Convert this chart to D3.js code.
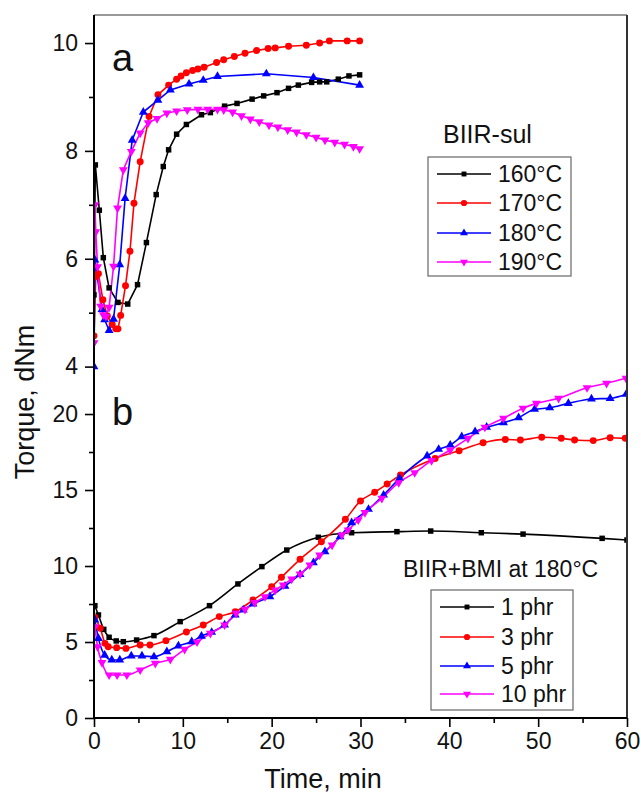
<!DOCTYPE html>
<html>
<head>
<meta charset="utf-8">
<script src="https://cdn.jsdelivr.net/npm/d3@7"></script>
<style>
  body { margin: 0; background: #fff; }
  text { font-family: "Liberation Sans", Arial, sans-serif; fill: #111; }
</style>
</head>
<body>
<svg width="641" height="793"></svg>
<script>
// panel a: BIIR-sul at different temperatures  [time min, torque dNm]
const a160 = [[0,5.33],[0.15,7.74],[0.6,6.9],[1.05,6.02],[1.7,5.46],[2.7,5.19],[3.8,5.16],[4.9,5.52],[5.9,6.3],[7.0,7.19],[7.8,7.71],[8.4,8.02],[9.3,8.31],[10.4,8.49],[12.1,8.67],[13.1,8.71],[14.7,8.83],[16.1,8.88],[17.8,8.96],[19.1,9.02],[20.6,9.08],[21.9,9.16],[23.0,9.22],[24.5,9.27],[25.4,9.28],[26.2,9.28],[27.5,9.33],[28.7,9.39],[29.9,9.41]]
const a170 = [[0,4.57],[0.2,5.67],[0.5,5.72],[1.0,5.24],[1.5,4.94],[2.05,4.78],[2.45,4.7],[2.7,4.7],[3.0,4.95],[3.55,5.5],[4.05,6.14],[4.5,7.03],[5.2,7.8],[6.2,8.64],[7.2,9.04],[8.4,9.22],[9.3,9.33],[9.8,9.39],[10.4,9.45],[11.1,9.49],[11.7,9.52],[12.4,9.55],[13.8,9.64],[14.6,9.69],[15.8,9.75],[17.0,9.81],[18.3,9.86],[19.6,9.9],[20.4,9.91],[21.9,9.94],[23.9,9.96],[25.4,10.0],[26.5,10.04],[28.5,10.04],[29.9,10.04]]
const a180 = [[0,4.0],[0.1,5.98],[0.9,5.06],[1.2,4.87],[1.7,4.67],[2.2,4.88],[2.9,5.89],[3.5,7.12],[4.3,8.2],[5.55,8.72],[7.2,8.94],[8.6,9.13],[10.7,9.24],[12.3,9.31],[13.9,9.38],[19.4,9.43],[24.7,9.36],[29.9,9.22]]
const a190 = [[0,4.44],[0.1,7.0],[0.2,6.5],[0.4,5.85],[0.75,5.12],[1.05,4.96],[1.35,4.93],[1.7,5.1],[2.2,5.86],[2.65,6.94],[3.3,7.65],[4.2,7.99],[5.2,8.33],[6.1,8.52],[7.1,8.6],[8.2,8.7],[9.3,8.74],[10.5,8.76],[11.7,8.77],[12.8,8.77],[13.9,8.77],[14.6,8.76],[15.6,8.72],[16.6,8.65],[17.6,8.59],[18.6,8.54],[19.7,8.48],[20.7,8.44],[21.8,8.39],[22.8,8.35],[23.9,8.3],[25.0,8.25],[26.0,8.2],[27.1,8.16],[28.2,8.12],[29.2,8.08],[29.9,8.04]]

// panel b: BIIR+BMI at 180 C, different BMI content
const b1 = [[0.1,7.39],[0.5,6.78],[1.1,5.83],[1.7,5.31],[2.5,5.07],[3.3,5.02],[4.8,5.13],[6.75,5.42],[9.7,6.34],[13.0,7.39],[16.2,8.82],[18.9,9.96],[21.7,11.05],[25.25,11.89],[29.0,12.19],[34.1,12.26],[37.9,12.3],[43.6,12.19],[48.3,12.1],[57.2,11.82],[60,11.71]]
const b3 = [[0.1,6.62],[0.7,5.9],[1.24,4.91],[1.6,4.69],[2.55,4.63],[3.6,4.58],[5.2,4.8],[6.3,4.8],[8.1,5.09],[10.4,5.66],[12.3,6.12],[14.1,6.67],[15.9,6.99],[17.9,7.76],[20.0,8.64],[21.1,9.26],[23.2,10.44],[25.6,11.6],[28.3,13.07],[30,14.28],[31.6,14.85],[33,15.39],[34.5,15.99],[38.4,17.08],[41.1,17.59],[43.8,18.11],[46.3,18.33],[48,18.29],[50.4,18.47],[52.6,18.4],[54.1,18.29],[56.2,18.25],[58.1,18.44],[59.8,18.4]]
const b5 = [[0.1,6.45],[0.5,5.24],[1.2,4.14],[2.0,3.82],[2.9,3.82],[4.2,4.08],[5.4,4.08],[6.75,4.03],[8.2,4.36],[9.5,4.74],[11.0,5.02],[12.1,5.39],[13.25,5.64],[14.7,6.12],[15.9,6.78],[16.8,7.11],[17.9,7.5],[19.8,7.98],[21.5,8.68],[23.2,9.45],[24.7,10.22],[26,10.94],[27.7,11.93],[29,12.85],[30.9,13.73],[32.6,14.67],[34.4,15.77],[37.5,17.24],[38.8,17.68],[40.1,17.96],[41.4,18.51],[42.9,18.84],[44.2,19.13],[46.1,19.43],[47.8,19.76],[49.6,20.31],[51.3,20.41],[53.4,20.7],[56,20.99],[58.1,21.03],[59.9,21.3]]
const b10 = [[0.1,6.0],[0.4,4.69],[0.9,3.64],[1.7,2.83],[2.6,2.83],[3.7,2.83],[5.2,3.16],[6.9,3.6],[8.6,3.86],[10.2,4.52],[11.6,5.0],[13.1,5.57],[14.7,6.12],[16,6.89],[17,7.15],[18.1,7.59],[19.25,7.98],[20.4,8.42],[21.3,8.75],[22.25,9.14],[23.2,9.47],[24.3,10.07],[25.4,10.72],[26.8,11.38],[27.9,12.04],[28.6,12.37],[29.75,13.03],[30.5,13.51],[32.4,14.45],[34.3,15.48],[36.1,16.14],[38,16.93],[40.1,17.63],[42.1,18.4],[44,19.13],[46.1,19.72],[48.3,20.38],[49.8,20.7],[52.3,21.03],[55.5,21.73],[57.7,22.02],[59.9,22.35]]

const labelsA = ["160°C", "170°C", "180°C", "190°C"]
const labelsB = ["1 phr", "3 phr", "5 phr", "10 phr"]
const colors = ["#000000", "#ff0000", "#0000ff", "#ff00ff"]
const xTicks = [0, 10, 20, 30, 40, 50, 60]
const yTicksA = [4, 6, 8, 10]
const yTicksB = [0, 5, 10, 15, 20]

const svg = d3.select("svg")
const padL = 94, padR = 627, padT = 15, padB = 718, split = 372

const x = d3.scaleLinear().domain([0, 60]).range([padL, padR])
const yA = d3.scaleLinear().domain([3.9, 10.52]).range([split, padT])
const yB = d3.scaleLinear().domain([0, 22.6]).range([padB, split + 2.5])

// marker shapes: square, circle, up triangle, down triangle
const shapes = [d3.symbolSquare, d3.symbolCircle, d3.symbolTriangle, d3.symbolTriangle]
const sizes = [30, 38, 34, 34]
function marker(g, i, cx, cy, scale) {
  g.append("path")
    .attr("d", d3.symbol().type(shapes[i]).size(sizes[i] * (scale || 1))())
    .attr("transform", `translate(${cx},${cy})` + (i === 3 ? " rotate(180)" : ""))
    .attr("fill", colors[i])
}

svg.append("clipPath").attr("id", "clipA")
  .append("rect").attr("x", padL).attr("y", padT).attr("width", padR - padL).attr("height", split - padT)
svg.append("clipPath").attr("id", "clipB")
  .append("rect").attr("x", padL).attr("y", split).attr("width", padR - padL).attr("height", padB - split)

function drawPanel(series, y, clipId, curve) {
  const g = svg.append("g").attr("clip-path", `url(#${clipId})`)
  const line = d3.line().x(d => x(d[0])).y(d => y(d[1])).curve(curve)
  series.forEach((s, i) => {
    g.append("path").datum(s)
      .attr("d", line)
      .attr("fill", "none")
      .attr("stroke", colors[i])
      .attr("stroke-width", 1.6)
  })
  series.forEach((s, i) => {
    s.forEach(d => marker(g, i, x(d[0]), y(d[1])))
  })
}

drawPanel([a160, a170, a180, a190], yA, "clipA", d3.curveLinear)
drawPanel([b1, b3, b5, b10], yB, "clipB", d3.curveMonotoneX)

// frame
svg.append("line").attr("x1", padL).attr("x2", padR).attr("y1", padT).attr("y2", padT)
  .attr("stroke", "#777").attr("stroke-width", 1.5)
svg.append("line").attr("x1", padR).attr("x2", padR).attr("y1", padT).attr("y2", padB)
  .attr("stroke", "#333").attr("stroke-width", 2)

// axes
function styleAxis(g) {
  g.select(".domain").remove()
  g.selectAll(".tick line").attr("stroke", "#000").attr("stroke-width", 1.6)
  g.selectAll(".tick text").attr("font-size", 23).attr("fill", "#111")
    .attr("font-family", "Liberation Sans, Arial, sans-serif")
}
const axA = svg.append("g").attr("transform", `translate(${padL},0)`)
  .call(d3.axisLeft(yA).tickValues(yTicksA).tickSize(9).tickPadding(7).tickFormat(d3.format("d")))
styleAxis(axA)
const axAminor = svg.append("g").attr("transform", `translate(${padL},0)`)
  .call(d3.axisLeft(yA).tickValues([5, 7, 9]).tickSize(5).tickFormat(""))
styleAxis(axAminor)

const axB = svg.append("g").attr("transform", `translate(${padL},0)`)
  .call(d3.axisLeft(yB).tickValues(yTicksB).tickSize(9).tickPadding(7).tickFormat(d3.format("d")))
styleAxis(axB)
const axBminor = svg.append("g").attr("transform", `translate(${padL},0)`)
  .call(d3.axisLeft(yB).tickValues([2.5, 7.5, 12.5, 17.5]).tickSize(5).tickFormat(""))
styleAxis(axBminor)

const axX = svg.append("g").attr("transform", `translate(0,${padB})`)
  .call(d3.axisBottom(x).tickValues(xTicks).tickSize(9).tickPadding(6))
styleAxis(axX)
const axXminor = svg.append("g").attr("transform", `translate(0,${padB})`)
  .call(d3.axisBottom(x).tickValues([5, 15, 25, 35, 45, 55]).tickSize(5).tickFormat(""))
styleAxis(axXminor)

svg.append("line").attr("x1", padL).attr("x2", padL).attr("y1", padT).attr("y2", padB)
  .attr("stroke", "#000").attr("stroke-width", 2)
svg.append("line").attr("x1", padL).attr("x2", padR).attr("y1", padB).attr("y2", padB)
  .attr("stroke", "#000").attr("stroke-width", 2)

// titles
svg.append("text").attr("x", 323).attr("y", 788).attr("text-anchor", "middle")
  .attr("font-size", 27).text("Time, min")
svg.append("text").attr("transform", "translate(34,402) rotate(-90)").attr("text-anchor", "middle")
  .attr("font-size", 27).text("Torque, dNm")

svg.append("text").attr("x", 112).attr("y", 71).attr("font-size", 38).text("a")
svg.append("text").attr("x", 112).attr("y", 425).attr("font-size", 38).text("b")

// legends
function legend(title, tx, ty, tsize, box, rows, labels) {
  svg.append("text").attr("x", tx).attr("y", ty).attr("font-size", tsize).text(title)
  svg.append("rect").attr("x", box[0]).attr("y", box[1]).attr("width", box[2] - box[0]).attr("height", box[3] - box[1])
    .attr("fill", "none").attr("stroke", "#666").attr("stroke-width", 1.2)
  const g = svg.append("g")
  labels.forEach((lab, i) => {
    const yy = rows[i]
    g.append("line").attr("x1", box[0] + 9).attr("x2", box[0] + 63).attr("y1", yy).attr("y2", yy)
      .attr("stroke", colors[i]).attr("stroke-width", 1.6)
    marker(g, i, box[0] + 36, yy, 0.8)
    g.append("text").attr("x", box[0] + 70).attr("y", yy + 8).attr("font-size", 23).text(lab)
  })
}
legend("BIIR-sul", 443, 143, 25, [428, 157, 571, 276], [174, 203, 233, 262], labelsA)
legend("BIIR+BMI at 180°C", 403, 577, 23, [431, 590, 573, 710], [607, 637, 666, 694], labelsB)
</script>
</body>
</html>
